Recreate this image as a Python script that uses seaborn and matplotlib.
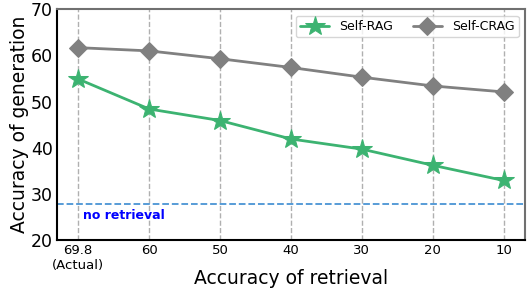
import pandas as pd
import matplotlib
matplotlib.use('Agg')
import matplotlib.pyplot as plt
import seaborn as sns

# Chart data
retrieval_labels = ['69.8\n(Actual)', '60', '50', '40', '30', '20', '10']
self_rag = [54.9, 48.4, 45.9, 41.9, 39.7, 36.2, 32.9]
self_crag = [61.7, 61.0, 59.3, 57.4, 55.3, 53.4, 52.1]
no_retrieval = 27.9

sns.set_style('white')
plt.rcParams['font.family'] = ['DejaVu Sans']
plt.rcParams['text.color'] = 'black'
plt.rcParams['axes.labelcolor'] = 'black'
plt.rcParams['xtick.color'] = 'black'
plt.rcParams['ytick.color'] = 'black'

df = pd.DataFrame({'retrieval': retrieval_labels * 2,
                   'acc': self_rag + self_crag,
                   'method': ['Self-RAG'] * 7 + ['Self-CRAG'] * 7})

fig, ax = plt.subplots(figsize=(5.27, 2.93), dpi=100)

sns.lineplot(data=df[df['method'] == 'Self-RAG'], x='retrieval', y='acc', ax=ax,
             color='mediumseagreen', marker='*', markersize=15, linewidth=2,
             markeredgecolor='mediumseagreen', label='Self-RAG', sort=False)
sns.lineplot(data=df[df['method'] == 'Self-CRAG'], x='retrieval', y='acc', ax=ax,
             color='gray', marker='D', markersize=9, linewidth=2,
             markeredgecolor='gray', label='Self-CRAG', sort=False)

ax.axhline(no_retrieval, color='#4a94d4', linestyle='--', linewidth=1.3)
ax.text(0.07, no_retrieval - 1.1, 'no retrieval', color='blue', fontweight='bold',
        fontsize=9, va='top')

ax.set_ylim(20, 70)
ax.set_xlim(-0.3, 6.3)
ax.set_yticks([20, 30, 40, 50, 60, 70])
ax.tick_params(axis='y', labelsize=12.5, length=0, pad=3)
ax.tick_params(axis='x', labelsize=9.5, length=0, pad=3)
ax.xaxis.grid(True, linestyle='--', color='#b0b0b0', linewidth=1)
ax.set_axisbelow(True)

ax.set_xlabel('Accuracy of retrieval', fontsize=13.5, labelpad=-2)
ax.set_ylabel('Accuracy of generation', fontsize=13.5, labelpad=1)

for side in ['left', 'bottom']:
    ax.spines[side].set_color('black')
    ax.spines[side].set_linewidth(1.5)
for side in ['top', 'right']:
    ax.spines[side].set_color('#707070')
    ax.spines[side].set_linewidth(1.5)

ax.legend(loc='upper right', ncol=2, fontsize=9, frameon=True, handlelength=2.3,
          borderpad=0.35, columnspacing=1.6, handletextpad=0.8)

plt.subplots_adjust(left=0.108, right=0.996, top=0.968, bottom=0.181)
plt.savefig('out.png')
